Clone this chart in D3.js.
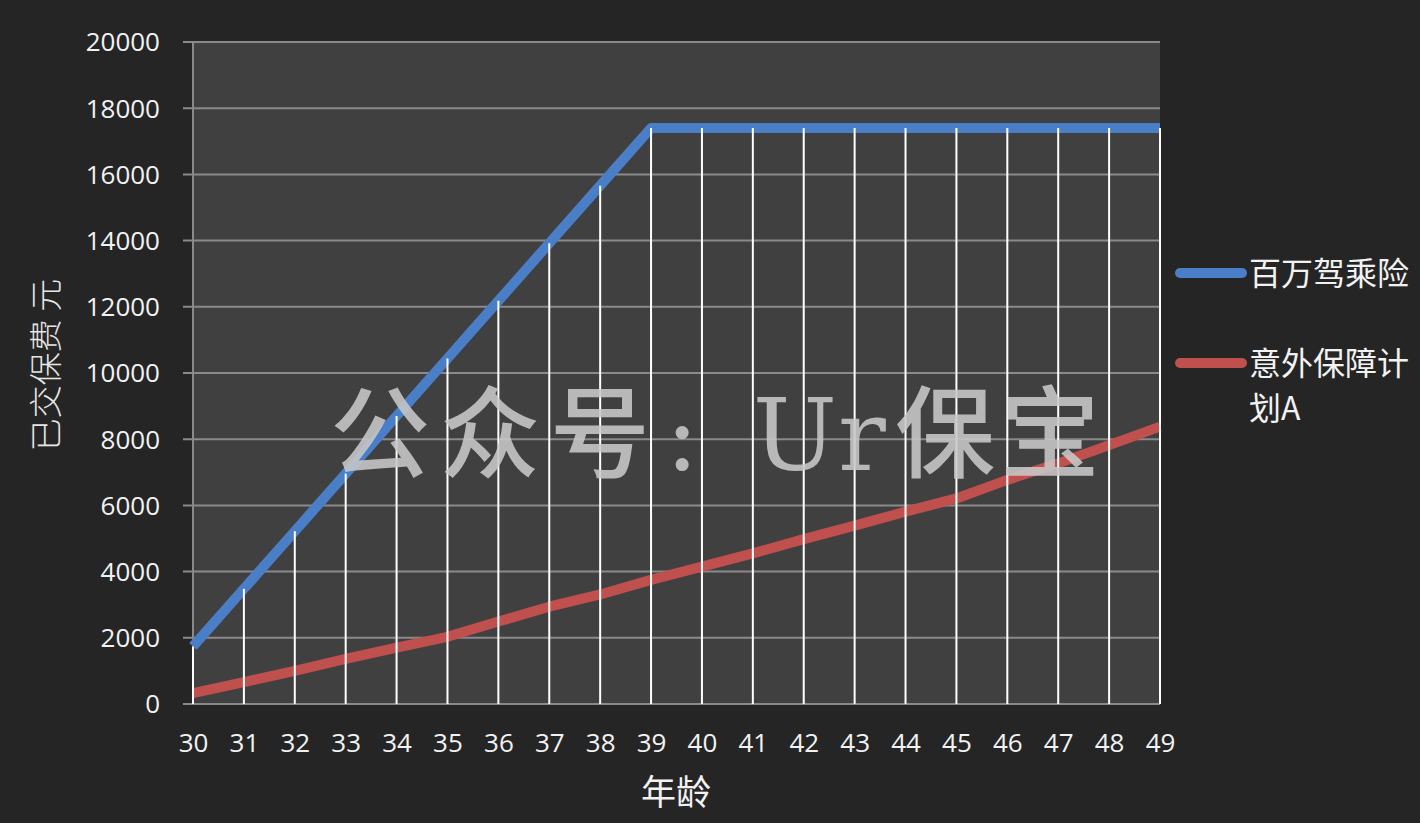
<!DOCTYPE html>
<html><head><meta charset="utf-8">
<script src="https://cdn.jsdelivr.net/npm/d3@7"></script>
<style>html,body{margin:0;padding:0;background:#252525;overflow:hidden}</style>
</head><body>
<svg id="c" width="1420" height="823"></svg>
<script>
const ages = [30,31,32,33,34,35,36,37,38,39,40,41,42,43,44,45,46,47,48,49];
const seriesNames = ["百万驾乘险", "意外保障计划A"];
const blueValues = [1740,3480,5220,6960,8700,10440,12180,13920,15660,17400,17400,17400,17400,17400,17400,17400,17400,17400,17400,17400];
const redValues = [330,660,1000,1360,1700,2030,2490,2940,3310,3750,4150,4550,4980,5390,5810,6210,6770,7270,7820,8380];
const yTicks = [0,2000,4000,6000,8000,10000,12000,14000,16000,18000,20000];

const svg = d3.select("#c");
const W = 1420, H = 823;
svg.append("rect").attr("width",W).attr("height",H).attr("fill","#252525");

const x = d3.scaleLinear().domain([30,49]).range([193,1160]);
const y = d3.scaleLinear().domain([0,20000]).range([704,42]);
const numFont = "'Open Sans','Liberation Sans',sans-serif";
const cjk = "'Noto Sans CJK SC','Noto Sans',sans-serif";

svg.append("rect").attr("x",x(30)).attr("y",y(20000))
  .attr("width",x(49)-x(30)).attr("height",y(0)-y(20000)).attr("fill","#404040");

// horizontal gridlines
svg.append("g").selectAll("line").data(yTicks).join("line")
  .attr("x1",183).attr("x2",x(49)).attr("y1",d=>y(d)).attr("y2",d=>y(d))
  .attr("stroke","#8a8a8a").attr("stroke-width",2);
// left axis line
svg.append("line").attr("x1",x(30)).attr("x2",x(30)).attr("y1",y(20000)).attr("y2",y(0))
  .attr("stroke","#8a8a8a").attr("stroke-width",2);

// y axis labels
const yAxis = d3.axisLeft(y).tickValues(yTicks).tickSize(0).tickPadding(0).tickFormat(d3.format("d"));
const ya = svg.append("g").attr("transform","translate(160,0)").call(yAxis);
ya.select(".domain").remove();
ya.selectAll("text").attr("fill","#f2f2f2").attr("font-size",26).attr("font-family",numFont)
  .attr("dy","0.34em");

// x axis labels
const xAxis = d3.axisBottom(x).tickValues(ages).tickSize(0).tickPadding(0).tickFormat(d3.format("d"));
const xa = svg.append("g").call(xAxis);
xa.select(".domain").remove();
xa.selectAll("text").attr("fill","#f2f2f2").attr("font-size",26).attr("font-family",numFont)
  .attr("y",752).attr("dy",0);

const line = d3.line().x((d,i)=>x(ages[i])).y(d=>y(d));
svg.append("path").datum(redValues).attr("d",line).attr("fill","none")
  .attr("stroke","#c0504d").attr("stroke-width",10).attr("stroke-linejoin","round");
svg.append("path").datum(blueValues).attr("d",line).attr("fill","none")
  .attr("stroke","#4a7ec6").attr("stroke-width",10).attr("stroke-linejoin","round");

// drop lines
svg.append("g").selectAll("line").data(blueValues).join("line")
  .attr("x1",(d,i)=>x(ages[i])).attr("x2",(d,i)=>x(ages[i]))
  .attr("y1",d=>y(d)).attr("y2",y(0))
  .attr("stroke","#ffffff").attr("stroke-width",2);

// axis titles
svg.append("text").attr("transform","translate(58,365) rotate(-90)")
  .attr("text-anchor","middle").attr("fill","#e6e6e6").attr("font-size",33)
  .attr("font-weight",300)
  .attr("font-family",cjk).text("已交保费 元");
svg.append("text").attr("x",676).attr("y",805).attr("text-anchor","middle")
  .attr("fill","#f2f2f2").attr("font-size",35).attr("font-family",cjk).text("年龄");

// legend
const colors = ["#4a7ec6","#c0504d"];
const legY = [273,363];
const lg = svg.append("g");
lg.selectAll("line").data(seriesNames).join("line")
  .attr("x1",1180).attr("x2",1242).attr("y1",(d,i)=>legY[i]).attr("y2",(d,i)=>legY[i])
  .attr("stroke",(d,i)=>colors[i]).attr("stroke-width",10).attr("stroke-linecap","round");
lg.append("text").attr("x",1249).attr("y",legY[0]+12).attr("fill","#f2f2f2")
  .attr("font-size",32).attr("font-family",cjk).text(seriesNames[0]);
const t2 = lg.append("text").attr("x",1249).attr("y",legY[1]+12).attr("fill","#f2f2f2")
  .attr("font-size",32).attr("font-family",cjk);
t2.append("tspan").attr("x",1249).text(seriesNames[1].slice(0,5));
t2.append("tspan").attr("x",1249).attr("dy",45).text(seriesNames[1].slice(5));

// watermark
const wm = [["公",380],["众",490],["号",600],[":",682],["U",795],["r",862],["保",945],["宝",1050]];
const latin = c => c==="U"||c==="r"||c===":";
svg.append("g").selectAll("text").data(wm).join("text")
  .attr("x",d=>d[1]).attr("y",470).attr("text-anchor","middle")
  .attr("fill","#c8c8c8").attr("fill-opacity",0.88)
  .attr("font-size",100)
  .attr("font-family",d=>latin(d[0])?"'DejaVu Serif','Liberation Serif',serif":cjk)
  .attr("font-weight",d=>latin(d[0])?"normal":"500")
  .text(d=>d[0]);
</script>
</body></html>
